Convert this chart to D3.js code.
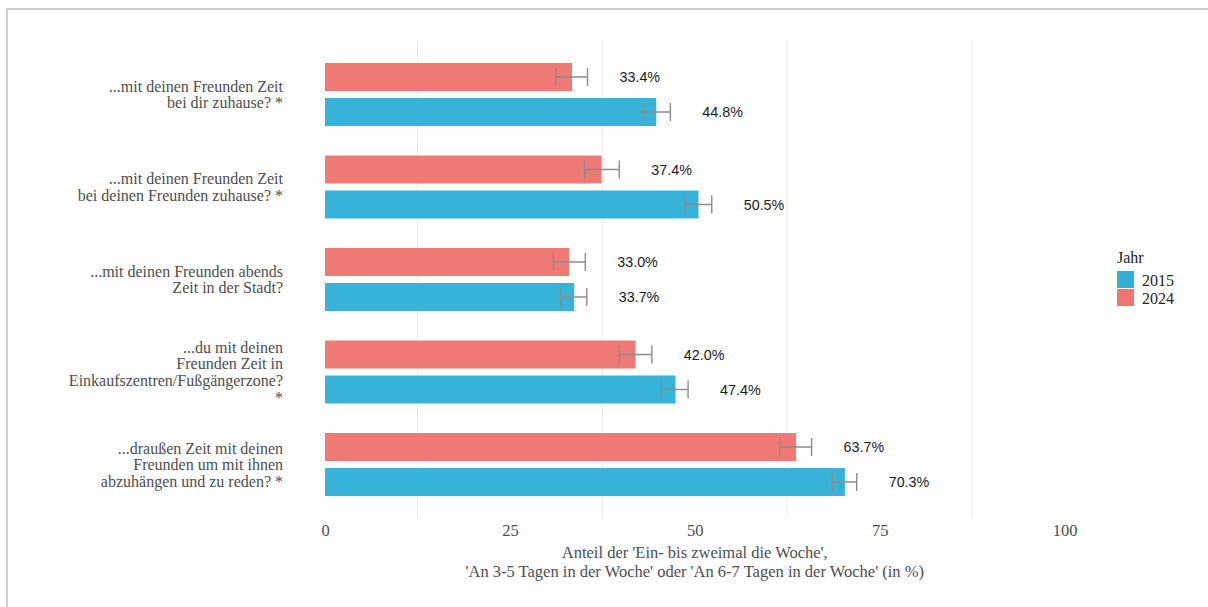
<!DOCTYPE html>
<html>
<head>
<meta charset="utf-8">
<script src="https://cdn.jsdelivr.net/npm/d3@7"></script>
<style>
  body { margin: 0; background: #fff; }
  svg { display: block; }
  .serif { font-family: "Liberation Serif", "Times New Roman", Times, serif; }
  .sans { font-family: "Liberation Sans", Arial, Helvetica, sans-serif; }
</style>
</head>
<body>
<svg width="1208" height="607"></svg>
<script>
// Fragen (Zeilen der y-Achse), von oben nach unten
const categories = [
  ["...mit deinen Freunden Zeit", "bei dir zuhause? *"],
  ["...mit deinen Freunden Zeit", "bei deinen Freunden zuhause? *"],
  ["...mit deinen Freunden abends", "Zeit in der Stadt?"],
  ["...du mit deinen", "Freunden Zeit in", "Einkaufszentren/Fußgängerzone?", "*"],
  ["...draußen Zeit mit deinen", "Freunden um mit ihnen", "abzuhängen und zu reden? *"]
]
const years = ["2024", "2015"]

// Anteile in % und Konfidenzintervalle
const values2015 = [44.8, 50.5, 33.7, 47.4, 70.3]
const low2015 = [43.0, 48.7, 31.9, 45.5, 68.6]
const high2015 = [46.7, 52.3, 35.4, 49.1, 71.9]
const values2024 = [33.4, 37.4, 33.0, 42.0, 63.7]
const low2024 = [31.2, 35.1, 30.9, 39.8, 61.5]
const high2024 = [35.5, 39.8, 35.2, 44.2, 65.8]

const xTicks = [0, 25, 50, 75, 100]
const xGrid = [12.5, 37.5, 62.5, 87.5]
const axisTitle = ["Anteil der 'Ein- bis zweimal die Woche',",
  "'An 3-5 Tagen in der Woche' oder 'An 6-7 Tagen in der Woche' (in %)"]

const colors = { "2015": "#31AFD7", "2024": "#EE7570" }

// build rows for drawing
const data = []
categories.forEach((c, i) => {
  data.push({ cat: i, year: "2024", v: values2024[i], lo: low2024[i], hi: high2024[i] })
  data.push({ cat: i, year: "2015", v: values2015[i], lo: low2015[i], hi: high2015[i] })
})

const svg = d3.select("svg")

// light frame around the chart
svg.append("rect")
  .attr("x", 7).attr("y", 9)
  .attr("width", 1300).attr("height", 700)
  .attr("fill", "none")
  .attr("stroke", "#cfcfcf")
  .attr("stroke-width", 2)

const x = d3.scaleLinear().domain([0, 100]).range([325, 1064.5])

const yOuter = d3.scaleBand()
  .domain(d3.range(categories.length))
  .range([48.25, 48.25 + 92.5 * categories.length])

const yInner = d3.scaleBand()
  .domain(years)
  .range([14.75, 77.75])
  .paddingInner(0.2)

const barY = d => yOuter(d.cat) + yInner(d.year)

// minor grid lines
svg.append("g").selectAll("line")
  .data(xGrid)
  .join("line")
  .attr("x1", d => x(d)).attr("x2", d => x(d))
  .attr("y1", 40).attr("y2", 518)
  .attr("stroke", "#ebebeb")
  .attr("stroke-width", 1)

// bars
svg.append("g").selectAll("rect")
  .data(data)
  .join("rect")
  .attr("x", x(0))
  .attr("y", barY)
  .attr("width", d => x(d.v) - x(0))
  .attr("height", yInner.bandwidth())
  .attr("fill", d => colors[d.year])
  .attr("fill-opacity", 0.97)

// error bars
const err = svg.append("g")
  .attr("stroke", "#8c8c8c")
  .attr("stroke-width", 1.4)
  .attr("fill", "none")

err.selectAll("path")
  .data(data)
  .join("path")
  .attr("d", d => {
    const cy = barY(d) + yInner.bandwidth() / 2
    const h = 9
    return `M${x(d.lo)},${cy - h}V${cy + h}M${x(d.lo)},${cy}H${x(d.hi)}M${x(d.hi)},${cy - h}V${cy + h}`
  })

// value labels
svg.append("g").attr("class", "sans").selectAll("text")
  .data(data)
  .join("text")
  .attr("x", d => x(d.hi) + 32)
  .attr("y", d => barY(d) + yInner.bandwidth() / 2)
  .attr("dy", "0.35em")
  .attr("font-size", 14.3)
  .attr("fill", "#1a1a1a")
  .text(d => d.v.toFixed(1) + "%")

// y axis labels (multi line)
const yLab = svg.append("g")
  .attr("class", "serif")
  .attr("font-size", 16)
  .attr("fill", "#4d4d4d")
  .attr("text-anchor", "end")

categories.forEach((lines, i) => {
  const cy = yOuter(i) + yOuter.bandwidth() / 2
  const lh = 16.6
  const t = yLab.append("text")
    .attr("x", 283)
    .attr("y", cy - (lines.length - 1) * lh / 2)
  lines.forEach((l, j) => {
    t.append("tspan")
      .attr("x", 283)
      .attr("dy", j === 0 ? "0.35em" : lh)
      .text(l)
  })
})

// x axis tick labels
const xAxis = d3.axisBottom(x).tickValues(xTicks).tickSize(0).tickPadding(0)
const gx = svg.append("g")
  .attr("transform", "translate(0,524)")
  .call(xAxis)
gx.select(".domain").remove()
gx.attr("font-family", null).attr("font-size", null)
gx.selectAll("text")
  .attr("class", "serif")
  .attr("font-size", 16.5)
  .attr("fill", "#4d4d4d")

// axis title
svg.append("text")
  .attr("class", "serif")
  .attr("x", (x(0) + x(100)) / 2)
  .attr("y", 558)
  .attr("text-anchor", "middle")
  .attr("font-size", 16.5)
  .attr("fill", "#4d4d4d")
  .selectAll("tspan")
  .data(axisTitle)
  .join("tspan")
  .attr("x", (x(0) + x(100)) / 2)
  .attr("dy", (d, i) => i === 0 ? 0 : 18.5)
  .text(d => d)

// legend
const legend = svg.append("g")
  .attr("class", "serif")
  .attr("font-size", 16)
  .attr("fill", "#222")

legend.append("text")
  .attr("x", 1117).attr("y", 263)
  .text("Jahr")

const legendYears = ["2015", "2024"]
legend.selectAll("rect")
  .data(legendYears)
  .join("rect")
  .attr("x", 1117)
  .attr("y", (d, i) => 271 + i * 18)
  .attr("width", 17).attr("height", 17)
  .attr("fill", d => colors[d])

legend.selectAll("text.item")
  .data(legendYears)
  .join("text")
  .attr("class", "item serif")
  .attr("x", 1142)
  .attr("y", (d, i) => 280 + i * 18)
  .attr("dy", "0.35em")
  .text(d => d)
</script>
</body>
</html>
